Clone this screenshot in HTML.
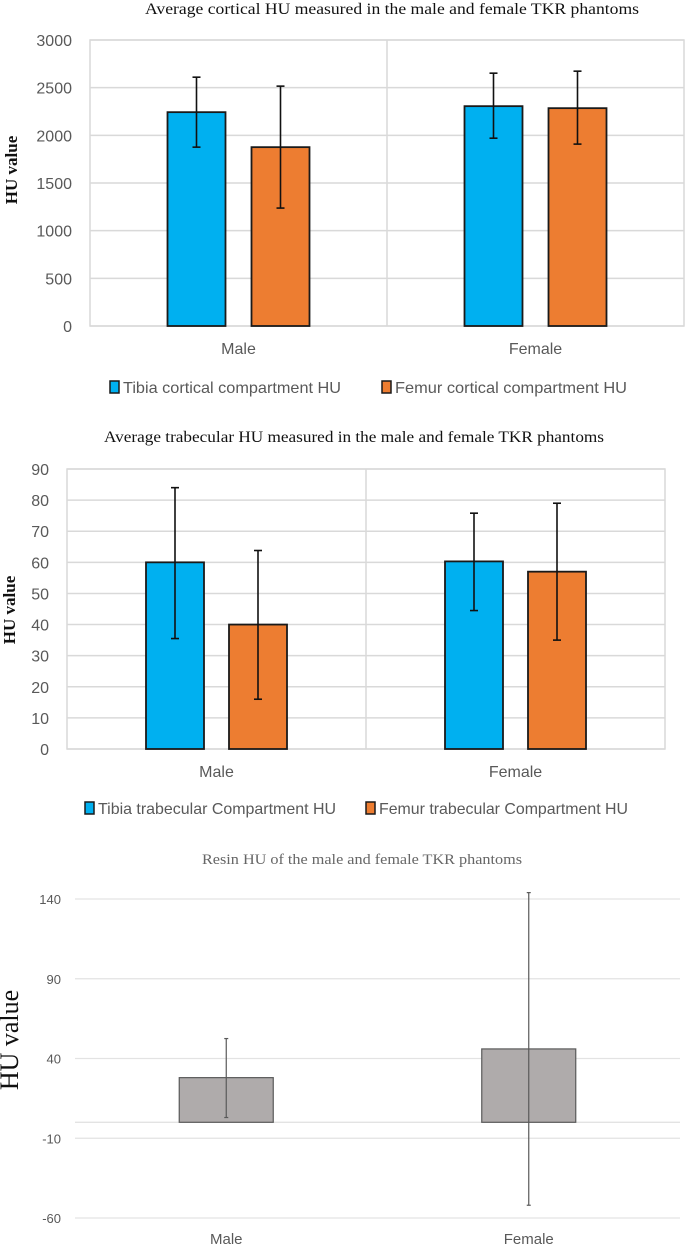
<!DOCTYPE html>
<html><head><meta charset="utf-8"><style>
html,body{margin:0;padding:0;background:#fff;}
svg{display:block;}
</style></head><body>
<svg id="s" width="685" height="1246" xmlns="http://www.w3.org/2000/svg">
<text x="392" y="14" text-anchor="middle" textLength="494" lengthAdjust="spacingAndGlyphs" font-family="Liberation Serif, serif" font-size="16" fill="#111">Average cortical HU measured in the male and female TKR phantoms</text>
<text transform="translate(17,170) rotate(-90)" text-anchor="middle" font-family="Liberation Serif, serif" font-size="17" font-weight="bold" fill="#111">HU value</text>
<text x="354" y="442" text-anchor="middle" textLength="500" lengthAdjust="spacingAndGlyphs" font-family="Liberation Serif, serif" font-size="16" fill="#111">Average trabecular HU measured in the male and female TKR phantoms</text>
<text transform="translate(15,610) rotate(-90)" text-anchor="middle" font-family="Liberation Serif, serif" font-size="17" font-weight="bold" fill="#111">HU value</text>
<text x="362" y="864" text-anchor="middle" textLength="320" lengthAdjust="spacingAndGlyphs" font-family="Liberation Serif, serif" font-size="15" fill="#666">Resin HU of the male and female TKR phantoms</text>
<text transform="translate(18,1040) rotate(-90)" text-anchor="middle" font-family="Liberation Serif, serif" font-size="26" fill="#111">HU value</text>
</svg>
<script>
const NS='http://www.w3.org/2000/svg';
const svg=document.getElementById('s');
// Chart 1 data
const cortCategories=['Male','Female'];
const cortTibia=[2243,2306];
const cortTibiaErrHi=[2610,2652];
const cortTibiaErrLo=[1876,1970];
const cortFemur=[1876,2285];
const cortFemurErrHi=[2516,2673];
const cortFemurErrLo=[1237,1908];
const cortTicks=[0,500,1000,1500,2000,2500,3000];
const cortLegend=['Tibia cortical compartment HU','Femur cortical compartment HU'];
// Chart 2 data
const trabCategories=['Male','Female'];
const trabTibia=[60,60.3];
const trabTibiaErrHi=[84,75.8];
const trabTibiaErrLo=[35.5,44.5];
const trabFemur=[40,57];
const trabFemurErrHi=[63.8,79];
const trabFemurErrLo=[16,35];
const trabTicks=[0,10,20,30,40,50,60,70,80,90];
const trabLegend=['Tibia trabecular Compartment HU','Femur trabecular Compartment HU'];
// Chart 3 data
const resinCategories=['Male','Female'];
const resinValues=[28,46];
const resinErrHi=[52.5,144];
const resinErrLo=[3,-52];
const resinTicks=[-60,-10,40,90,140];

function el(tag,attrs,parent){const e=document.createElementNS(NS,tag);for(const k in attrs)e.setAttribute(k,attrs[k]);(parent||svg).appendChild(e);return e;}

function groupedChart(cfg){
  const {x0,x1,yTop,yBot,vmax,ticks,cats,series,his,los,legend,prefix,catY,legY,legX,legW,bw,gap}=cfg;
  const y=v=>yBot-(v/vmax)*(yBot-yTop);
  const g=el('g',{});
  
  
  ticks.forEach(t=>{
    const l=el('line',{x1:x0,x2:x1,y1:y(t),y2:y(t),stroke:'#d9d9d9','stroke-width':1.5},g);
    
    
    const tx=el('text',{x:x0-18,y:y(t)+6,'text-anchor':'end','font-family':'Liberation Sans, sans-serif','font-size':16,fill:'#595959'},g);
    tx.textContent=t;
    
    
  });
  const border=el('rect',{x:x0,y:yTop,width:x1-x0,height:yBot-yTop,fill:'none',stroke:'#d9d9d9','stroke-width':1.5},g);
  
  
  const xm=(x0+x1)/2;
  const d=el('line',{x1:xm,x2:xm,y1:yTop,y2:yBot,stroke:'#d9d9d9','stroke-width':1.5},g);
  
  
  const gw=(x1-x0)/cats.length;
  const colors=['#00b0f0','#ed7d31'];
  cats.forEach((c,i)=>{
    const cx=x0+gw*(i+0.5);
    series.forEach((s,j)=>{
      const bx=cx-bw-gap/2+j*(bw+gap);
      const r=el('rect',{x:bx,y:y(s[i]),width:bw,height:yBot-y(s[i]),fill:colors[j],stroke:'#1a1a1a','stroke-width':1.8},g);
      
      
      const ex=bx+bw/2;
      const eg=el('g',{stroke:'#111','stroke-width':1.6},g);
      
      
      el('line',{x1:ex,x2:ex,y1:y(his[j][i]),y2:y(los[j][i])},eg);
      el('line',{x1:ex-4,x2:ex+4,y1:y(his[j][i]),y2:y(his[j][i])},eg);
      el('line',{x1:ex-4,x2:ex+4,y1:y(los[j][i]),y2:y(los[j][i])},eg);
    });
    const t=el('text',{x:cx,y:catY,'text-anchor':'middle','font-family':'Liberation Sans, sans-serif','font-size':16,fill:'#595959'},g);
    t.textContent=c;
    
    
  });
  legend.forEach((L,j)=>{
    const lx=legX[j];
    const lg=el('g',{},g);
    
    
    el('rect',{x:lx,y:legY-12,width:9,height:12,fill:colors[j],stroke:'#1a1a1a','stroke-width':1.5},lg);
    const t=el('text',{x:lx+13,y:legY,'font-family':'Liberation Sans, sans-serif','font-size':16,fill:'#595959',textLength:legW[j],lengthAdjust:'spacingAndGlyphs'},lg);
    t.textContent=L;
  });
}

groupedChart({x0:90,x1:684,yTop:40,yBot:326,vmax:3000,ticks:cortTicks,cats:cortCategories,
  series:[cortTibia,cortFemur],his:[cortTibiaErrHi,cortFemurErrHi],los:[cortTibiaErrLo,cortFemurErrLo],
  legend:cortLegend,prefix:'cortical',catY:354,legY:393,legX:[110,382],legW:[218,232],bw:58,gap:26});
groupedChart({x0:67,x1:665,yTop:469,yBot:749,vmax:90,ticks:trabTicks,cats:trabCategories,
  series:[trabTibia,trabFemur],his:[trabTibiaErrHi,trabFemurErrHi],los:[trabTibiaErrLo,trabFemurErrLo],
  legend:trabLegend,prefix:'trabecular',catY:777,legY:814,legX:[85,366],legW:[238,249],bw:58,gap:25});

(function(){
  const x0=75,x1=680,vTop=140,yTop=899,vBot=-60,yB=1218;
  const y=v=>yTop+(vTop-v)/(vTop-vBot)*(yB-yTop);
  const g=el('g',{});
  
  
  resinTicks.forEach(t=>{
    const l=el('line',{x1:x0,x2:x1,y1:y(t),y2:y(t),stroke:'#e3e3e3','stroke-width':1.3},g);
    
    
    const tx=el('text',{x:61,y:y(t)+5,'text-anchor':'end','font-family':'Liberation Sans, sans-serif','font-size':13,fill:'#595959'},g);
    tx.textContent=t;
    
    
  });
  const z=el('line',{x1:x0,x2:x1,y1:y(0),y2:y(0),stroke:'#e3e3e3','stroke-width':1.3},g);
  
  
  const gw=(x1-x0)/resinCategories.length;
  const bw=94;
  resinCategories.forEach((c,i)=>{
    const cx=x0+gw*(i+0.5);
    const top=Math.min(y(resinValues[i]),y(0)),h=Math.abs(y(0)-y(resinValues[i]));
    const r=el('rect',{x:cx-bw/2,y:top,width:bw,height:h,fill:'#afabab',stroke:'#5a5a5a','stroke-width':1.2},g);
    
    
    const eg=el('g',{stroke:'#595959','stroke-width':1.2},g);
    
    
    el('line',{x1:cx,x2:cx,y1:y(resinErrHi[i]),y2:y(resinErrLo[i])},eg);
    el('line',{x1:cx-2,x2:cx+2,y1:y(resinErrHi[i]),y2:y(resinErrHi[i])},eg);
    el('line',{x1:cx-2,x2:cx+2,y1:y(resinErrLo[i]),y2:y(resinErrLo[i])},eg);
    const t=el('text',{x:cx,y:1244,'text-anchor':'middle','font-family':'Liberation Sans, sans-serif','font-size':15,fill:'#595959'},g);
    t.textContent=c;
    
    
  });
})();
</script>
</body></html>
